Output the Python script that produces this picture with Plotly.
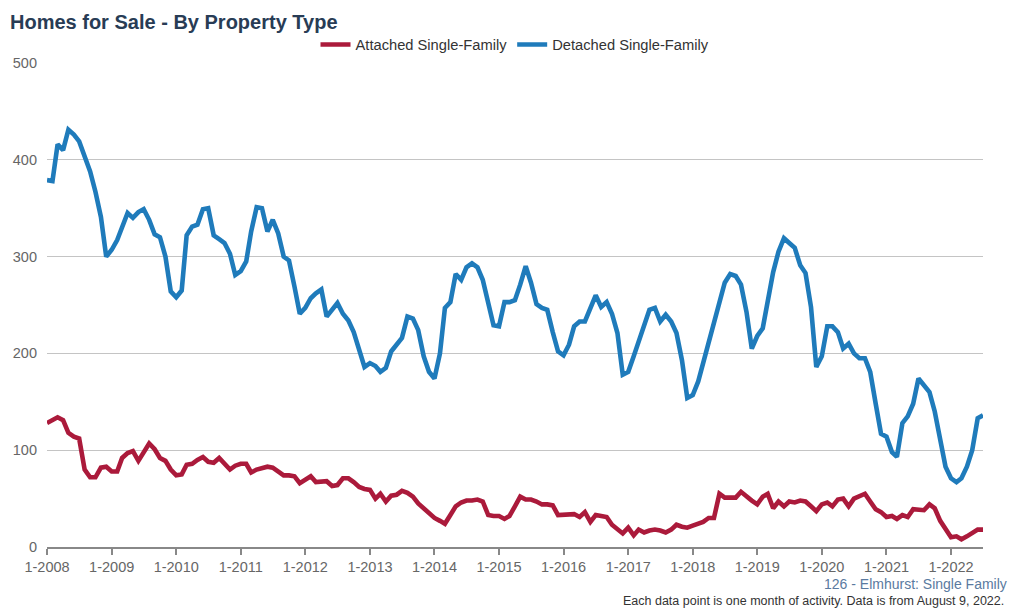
import plotly.graph_objects as go
import pandas as pd

# Months: Jan 2008 .. Jul 2022
months = pd.date_range("2008-01-01", "2022-07-01", freq="MS")

detached = [
    379, 378, 416, 410, 431, 426, 419, 403, 388, 367, 341, 300,
    307, 317, 331, 345, 340, 346, 349, 338, 323, 320, 300, 264,
    258, 265, 322, 331, 333, 349, 350, 322, 318, 314, 303, 281,
    285, 295, 326, 351, 350, 326, 338, 324, 300, 296, 269, 241,
    247, 257, 262, 266, 238, 245, 252, 241, 234, 222, 205, 186,
    190, 187, 181, 185, 202, 209, 216, 238, 236, 224, 197, 181,
    174, 200, 247, 253, 282, 276, 289, 293, 289, 276, 252, 229,
    228, 253, 253, 255, 271, 290, 273, 251, 247, 245, 222, 202,
    198, 209, 228, 233, 233, 247, 260, 248, 253, 241, 221, 178,
    181, 197, 212, 229, 245, 247, 233, 240, 233, 221, 193, 154,
    157, 171, 190, 210, 231, 252, 273, 282, 280, 271, 243, 205,
    218, 226, 253, 284, 305, 319, 314, 309, 291, 283, 248, 186,
    197, 228, 228, 222, 205, 210, 200, 195, 195, 181, 148, 117,
    114, 98, 93, 128, 135, 148, 174, 167, 160, 140, 110, 83,
    71, 67, 71, 83, 100, 133, 136,
]

attached = [
    128, 131, 134, 131, 118, 114, 112, 80, 72, 72, 82, 83,
    78, 78, 92, 97, 99, 89, 99, 107, 101, 92, 89, 80,
    74, 75, 85, 86, 90, 93, 88, 87, 92, 86, 80, 84,
    86, 86, 77, 80, 81, 83, 82, 78, 74, 74, 73, 66,
    69, 73, 67, 68, 68, 63, 64, 71, 71, 67, 62, 60,
    59, 50, 55, 47, 53, 54, 58, 56, 52, 45, 40, 35,
    30, 27, 24, 33, 42, 46, 48, 48, 49, 47, 33, 32,
    32, 29, 32, 42, 52, 49, 49, 47, 44, 44, 43, 33,
    33, 34, 34, 31, 36, 26, 33, 32, 31, 23, 18, 14,
    20, 12, 18, 15, 17, 18, 17, 15, 18, 23, 21, 20,
    22, 24, 26, 30, 30, 55, 51, 51, 51, 57, 52, 48,
    44, 52, 55, 40, 47, 42, 47, 46, 48, 47, 42, 37,
    44, 46, 42, 49, 50, 42, 50, 52, 55, 47, 39, 36,
    31, 32, 29, 33, 31, 39, 38, 38, 44, 40, 27, 18,
    10, 11, 8, 11, 15, 18, 18,
]

y_ticks = [0, 100, 200, 300, 400, 500]

RED = "#ab1a3b"
BLUE = "#1f7bbb"
FONT = "Liberation Sans, Arial, sans-serif"

W, H = 1020, 613
L, R, T, B = 47, 37, 63, 66
PW, PH = W - L - R, H - T - B

fig = go.Figure()
fig.add_trace(go.Scatter(x=months, y=attached, mode="lines", name="Attached Single-Family",
                         line=dict(color=RED, width=4.6)))
fig.add_trace(go.Scatter(x=months, y=detached, mode="lines", name="Detached Single-Family",
                         line=dict(color=BLUE, width=4.6)))

fig.update_layout(
    width=W, height=H,
    margin=dict(l=L, r=R, t=T, b=B),
    paper_bgcolor="white", plot_bgcolor="white",
    font=dict(family=FONT, size=14, color="#333333"),
    title=dict(text="<b>Homes for Sale - By Property Type</b>", x=10 / W, xref="container",
               xanchor="left", y=1 - 22 / H, yref="container", yanchor="middle",
               font=dict(size=20, color="#283c55", family=FONT)),
    legend=dict(orientation="h", x=0.5, xanchor="center", y=1 + (T - 45) / PH, yanchor="middle",
                font=dict(size=14.7, color="#333333"), bgcolor="rgba(0,0,0,0)",
                traceorder="normal"),
    showlegend=True,
    hovermode=False,
)

fig.update_xaxes(
    type="date", range=["2008-01-01", "2022-07-01"],
    tick0="2008-01-01", dtick="M12", tickformat="%-m-%Y",
    showgrid=False, showline=True, linecolor="#888888", linewidth=2,
    ticks="outside", ticklen=6, tickwidth=2, tickcolor="#888888",
    tickfont=dict(size=14.5, color="#666666"), zeroline=False,
)
fig.update_yaxes(
    range=[0, 500], tickvals=y_ticks, showgrid=True, gridcolor="#c4c4c4", gridwidth=1,
    zeroline=False, showline=False, ticks="",
    tickfont=dict(size=14.5, color="#666666"), ticklabelstandoff=9,
)

fig.add_annotation(text="126 - Elmhurst: Single Family", xref="paper", yref="paper",
                   x=(1009 - L) / PW, xanchor="right",
                   y=-(584 - (H - B)) / PH, yanchor="middle", showarrow=False,
                   font=dict(size=14, color="#5a7aa0", family=FONT))
fig.add_annotation(text="Each data point is one month of activity. Data is from August 9, 2022.",
                   xref="paper", yref="paper",
                   x=(1006 - L) / PW, xanchor="right",
                   y=-(601 - (H - B)) / PH, yanchor="middle", showarrow=False,
                   font=dict(size=12.5, color="#333333", family=FONT))

fig.write_html("out.html", config={"displayModeBar": False},
               post_script="document.body.style.margin='0';document.body.style.overflow='hidden';")
